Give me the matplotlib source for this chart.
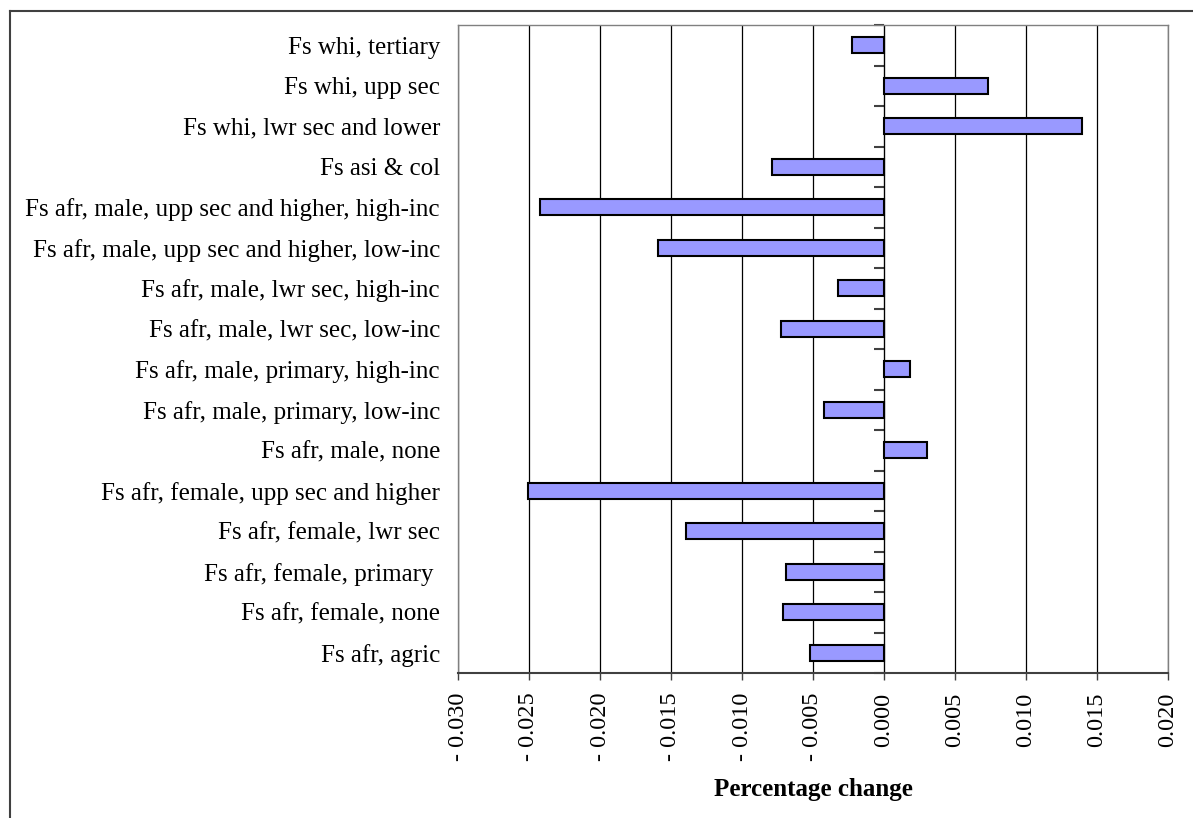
import numpy as np
import matplotlib
matplotlib.use("Agg")
import matplotlib.pyplot as plt
from matplotlib.ticker import FuncFormatter, MultipleLocator
from matplotlib.lines import Line2D

plt.rcParams['font.family'] = ['Liberation Serif', 'DejaVu Serif']

# categories, top to bottom as shown
categories = [
    "Fs whi, tertiary",
    "Fs whi, upp sec",
    "Fs whi, lwr sec and lower",
    "Fs asi & col",
    "Fs afr, male, upp sec and higher, high-inc",
    "Fs afr, male, upp sec and higher, low-inc",
    "Fs afr, male, lwr sec, high-inc",
    "Fs afr, male, lwr sec, low-inc",
    "Fs afr, male, primary, high-inc",
    "Fs afr, male, primary, low-inc",
    "Fs afr, male, none",
    "Fs afr, female, upp sec and higher",
    "Fs afr, female, lwr sec",
    "Fs afr, female, primary ",
    "Fs afr, female, none",
    "Fs afr, agric",
]
pct_change = [
    -0.00227, 0.00735, 0.01397, -0.00787,
    -0.02423, -0.01594, -0.00326, -0.00725,
    0.00183, -0.00423, 0.00305, -0.02505,
    -0.01397, -0.00690, -0.00709, -0.00521,
]
xmin, xmax = -0.030, 0.020

fig = plt.figure(figsize=(11.93, 8.18), dpi=100)
ax = fig.add_axes([458/1193, 1-673/818, 710/1193, 648/818])

ypos = np.arange(len(categories))
ax.barh(ypos, pct_change, height=0.4, color='#9999ff', edgecolor='black',
        linewidth=1.5, zorder=3)

ax.set_xlim(xmin, xmax)
ax.set_ylim(len(categories) - 0.5, -0.5)
ax.xaxis.set_major_locator(MultipleLocator(0.005))
ax.xaxis.set_major_formatter(FuncFormatter(
    lambda v, p: f"- {abs(v):.3f}" if v < -1e-9 else f"{abs(v):.3f}"))
ax.grid(axis='x', color='black', linewidth=0.9, zorder=1)
ax.set_axisbelow(True)

ax.set_yticks(ypos)
ax.set_yticklabels(categories, fontsize=18)
ax.tick_params(axis='y', length=0, pad=13)
ax.tick_params(axis='x', direction='out', length=5, width=1, color='#404040',
               labelsize=17.5, labelrotation=90, pad=9)

for s in ['top', 'left', 'right']:
    ax.spines[s].set_color('#808080')
    ax.spines[s].set_linewidth(1)
ax.spines['bottom'].set_color('#404040')
ax.spines['bottom'].set_linewidth(1.5)

# category axis crossing at zero
zero_frac = (0 - xmin) / (xmax - xmin)
sec = ax.secondary_yaxis(zero_frac)
sec.set_yticks(np.arange(len(categories) + 1) - 0.5)
sec.set_yticklabels([])
sec.tick_params(direction='in', length=7, width=1.5, color='#404040')
sec.spines['left'].set_color('black')
sec.spines['left'].set_linewidth(1.2)

ax.set_xlabel("Percentage change", fontsize=18, fontweight='bold', labelpad=12)

# outer chart frame (top and left edges visible)
fig.add_artist(Line2D([10/1193, 1], [1-11/818, 1-11/818], color='#404040',
                      linewidth=1.5, transform=fig.transFigure))
fig.add_artist(Line2D([10/1193, 10/1193], [0, 1-11/818], color='#404040',
                      linewidth=1.5, transform=fig.transFigure))

fig.savefig("out.png", dpi=100)
